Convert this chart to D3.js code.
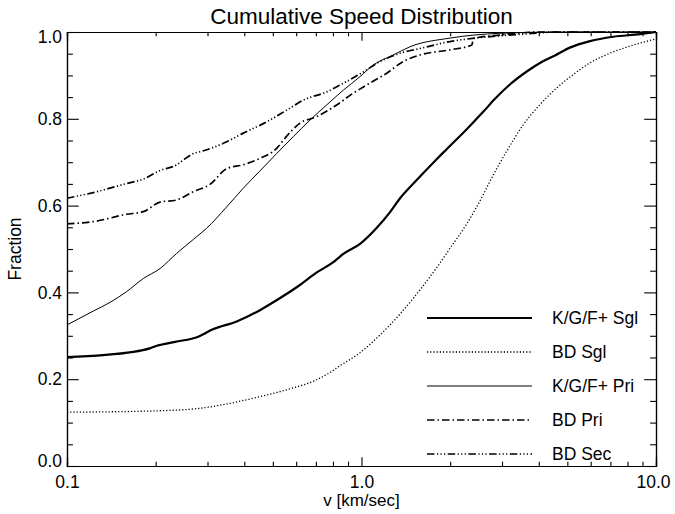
<!DOCTYPE html>
<html>
<head>
<meta charset="utf-8">
<script src="https://cdn.jsdelivr.net/npm/d3@7"></script>
<style>
  body { margin: 0; background: #fff; }
  svg { display: block; font-family: "Liberation Sans", Arial, sans-serif; }
</style>
</head>
<body>
<div id="chart"></div>
<script>
// ------- Data -------
const kgfSgl = [
  [0.100, 0.251], [0.168, 0.263], [0.191, 0.271], [0.202, 0.277], [0.233, 0.286],
  [0.279, 0.298], [0.313, 0.315], [0.377, 0.333], [0.452, 0.359], [0.515, 0.382],
  [0.618, 0.417], [0.705, 0.446], [0.800, 0.469], [0.865, 0.488], [0.989, 0.512],
  [1.127, 0.549], [1.250, 0.585], [1.352, 0.617], [1.540, 0.659], [1.800, 0.707],
  [1.946, 0.730], [2.277, 0.776], [2.590, 0.816], [2.840, 0.846], [3.190, 0.879],
  [3.640, 0.909], [4.090, 0.931], [4.540, 0.946], [5.100, 0.964], [5.970, 0.979],
  [7.150, 0.989], [8.830, 0.995], [10.00, 1.000]
];

const bdSgl = [
  [0.100, 0.124], [0.200, 0.127], [0.283, 0.133], [0.349, 0.143], [0.452, 0.160],
  [0.587, 0.180], [0.690, 0.196], [0.762, 0.211], [0.845, 0.231], [0.988, 0.261],
  [1.156, 0.302], [1.351, 0.350], [1.580, 0.406], [1.800, 0.457], [2.000, 0.502],
  [2.277, 0.558], [2.590, 0.625], [2.730, 0.656], [3.110, 0.725], [3.540, 0.786],
  [4.040, 0.833], [4.600, 0.871], [5.240, 0.902], [5.970, 0.929], [6.800, 0.948],
  [7.950, 0.965], [10.00, 0.984]
];

const kgfPri = [
  [0.100, 0.325], [0.1228, 0.357], [0.140, 0.377], [0.1595, 0.402], [0.1816, 0.432],
  [0.207, 0.455], [0.2358, 0.490], [0.2685, 0.522], [0.2981, 0.548], [0.3485, 0.597],
  [0.3968, 0.640], [0.4522, 0.680], [0.5152, 0.720], [0.5867, 0.759], [0.6686, 0.797],
  [0.7618, 0.832], [0.8676, 0.866], [0.988, 0.897], [1.097, 0.924], [1.282, 0.947],
  [1.461, 0.966], [2.000, 0.986], [2.950, 0.997], [4.700, 1.000], [10.00, 1.000]
];

const bdPri = [
  [0.100, 0.558], [0.1228, 0.563], [0.1595, 0.580], [0.1816, 0.586], [0.207, 0.608],
  [0.2358, 0.613], [0.2685, 0.632], [0.3059, 0.649], [0.3485, 0.685], [0.3968, 0.694],
  [0.4522, 0.709], [0.5152, 0.732], [0.5572, 0.760], [0.6183, 0.790], [0.7047, 0.805],
  [0.8237, 0.832], [0.938, 0.859], [1.042, 0.878], [1.218, 0.905], [1.387, 0.932],
  [1.580, 0.947], [2.000, 0.959], [2.370, 0.970], [2.400, 0.985], [2.950, 0.993],
  [4.040, 1.000], [10.00, 1.000]
];

const bdSec = [
  [0.100, 0.617], [0.1228, 0.630], [0.1595, 0.651], [0.1816, 0.661], [0.207, 0.681],
  [0.2358, 0.694], [0.2483, 0.705], [0.2685, 0.720], [0.2829, 0.724], [0.3485, 0.747],
  [0.3968, 0.767], [0.4765, 0.793], [0.5572, 0.820], [0.6345, 0.843], [0.7618, 0.862],
  [0.8676, 0.882], [1.014, 0.908], [1.156, 0.932], [1.351, 0.951], [1.580, 0.962],
  [2.000, 0.978], [2.600, 0.988], [3.500, 0.995], [4.700, 1.000], [10.00, 1.000]
];

const seriesNames = ["K/G/F+ Sgl", "BD Sgl", "K/G/F+ Pri", "BD Pri", "BD Sec"];
const seriesData = [kgfSgl, bdSgl, kgfPri, bdPri, bdSec];

const xMajor = [0.1, 1, 10];
const xMajorLabels = ["0.1", "1.0", "10.0"];
const xMinor = [0.2, 0.3, 0.4, 0.5, 0.6, 0.7, 0.8, 0.9, 2, 3, 4, 5, 6, 7, 8, 9];
const yMajor = [0, 0.2, 0.4, 0.6, 0.8, 1.0];
const yMinor = [0.05, 0.1, 0.15, 0.25, 0.3, 0.35, 0.45, 0.5, 0.55, 0.65, 0.7, 0.75, 0.85, 0.9, 0.95];

// ------- Chart Setup -------
const W = 675, H = 514;
const margin = { top: 32, right: 19, bottom: 48, left: 67 };
const width = W - margin.left - margin.right;
const height = H - margin.top - margin.bottom;

const svgRoot = d3.select("#chart").append("svg")
  .attr("width", W)
  .attr("height", H);

const svg = svgRoot.append("g")
  .attr("transform", `translate(${margin.left},${margin.top})`);

const x = d3.scaleLog().domain([0.1, 10]).range([0, width]);
const y = d3.scaleLinear().domain([0, 1]).range([height, 0]);

// line styles: thick solid, dotted, thin solid, dash-dot, dash-dot-dot-dot
const styles = [
  { w: 2.2, dash: null },
  { w: 1.3, dash: "1.2,2" },
  { w: 1.0, dash: null },
  { w: 1.7, dash: "7.5,3,1.5,3" },
  { w: 1.7, dash: "7.5,2.5,1.2,2.3,1.2,2.3,1.2,2.5" }
];

// ------- Axes -------
const fontSize = 17.5;
const xMajLen = 0.02 * height, yMajLen = 0.02 * width;

function styleAxis(g) {
  g.select(".domain").attr("stroke", "#000").attr("stroke-width", 1.2);
  g.selectAll(".tick line").attr("stroke", "#000").attr("stroke-width", 1.1);
  g.selectAll("text").attr("fill", "#000").attr("font-size", fontSize)
    .attr("font-family", "Liberation Sans, Arial, sans-serif");
}

// bottom
svg.append("g")
  .attr("transform", `translate(0,${height})`)
  .call(d3.axisBottom(x).tickValues(xMajor).tickSize(-xMajLen).tickPadding(10)
    .tickFormat((d, i) => xMajorLabels[i]))
  .call(styleAxis)
  .call(g => g.selectAll("text").filter(d => d === 10).attr("dx", -3));

svg.append("g")
  .attr("transform", `translate(0,${height})`)
  .call(d3.axisBottom(x).tickValues(xMinor).tickSize(-xMajLen / 2).tickFormat(""))
  .call(styleAxis);

// top
svg.append("g")
  .call(d3.axisTop(x).tickValues(xMajor).tickSize(-xMajLen).tickFormat(""))
  .call(styleAxis);
svg.append("g")
  .call(d3.axisTop(x).tickValues(xMinor).tickSize(-xMajLen / 2).tickFormat(""))
  .call(styleAxis);

// left
svg.append("g")
  .call(d3.axisLeft(y).tickValues(yMajor).tickSize(-yMajLen).tickPadding(5)
    .tickFormat(d3.format(".1f")))
  .call(styleAxis)
  .call(g => {
    g.selectAll("text").filter(d => d === 1).attr("dy", "0.62em");
    g.selectAll("text").filter(d => d === 0).attr("dy", "0.04em");
  });
svg.append("g")
  .call(d3.axisLeft(y).tickValues(yMinor).tickSize(-yMajLen / 2).tickFormat(""))
  .call(styleAxis);

// right
svg.append("g")
  .attr("transform", `translate(${width},0)`)
  .call(d3.axisRight(y).tickValues(yMajor).tickSize(-yMajLen).tickFormat(""))
  .call(styleAxis);
svg.append("g")
  .attr("transform", `translate(${width},0)`)
  .call(d3.axisRight(y).tickValues(yMinor).tickSize(-yMajLen / 2).tickFormat(""))
  .call(styleAxis);

// ------- Curves -------
const line = d3.line()
  .curve(d3.curveMonotoneX)
  .x(d => x(d[0]))
  .y(d => y(d[1]));

seriesData.forEach((data, i) => {
  svg.append("path")
    .datum(data)
    .attr("fill", "none")
    .attr("stroke", "#000")
    .attr("stroke-width", styles[i].w)
    .attr("stroke-dasharray", styles[i].dash)
    .attr("d", line);
});

// ------- Titles -------
svgRoot.append("text")
  .attr("x", margin.left + width / 2)
  .attr("y", 24)
  .attr("text-anchor", "middle")
  .attr("font-size", 22.5)
  .text("Cumulative Speed Distribution");

svgRoot.append("text")
  .attr("x", margin.left + width / 2)
  .attr("y", 506)
  .attr("text-anchor", "middle")
  .attr("font-size", 17)
  .text("v [km/sec]");

svgRoot.append("text")
  .attr("transform", `translate(21,${margin.top + height / 2}) rotate(-90)`)
  .attr("text-anchor", "middle")
  .attr("font-size", fontSize)
  .text("Fraction");

// ------- Legend -------
const legend = svgRoot.append("g")
  .attr("transform", "translate(427,318)");

seriesNames.forEach((name, i) => {
  const g = legend.append("g")
    .attr("transform", `translate(0,${i * 34})`);

  g.append("line")
    .attr("x1", 0).attr("x2", 105)
    .attr("stroke", "#000")
    .attr("stroke-width", styles[i].w)
    .attr("stroke-dasharray", styles[i].dash);

  g.append("text")
    .attr("x", 125)
    .attr("y", 6)
    .attr("font-size", fontSize)
    .text(name);
});
</script>
</body>
</html>
